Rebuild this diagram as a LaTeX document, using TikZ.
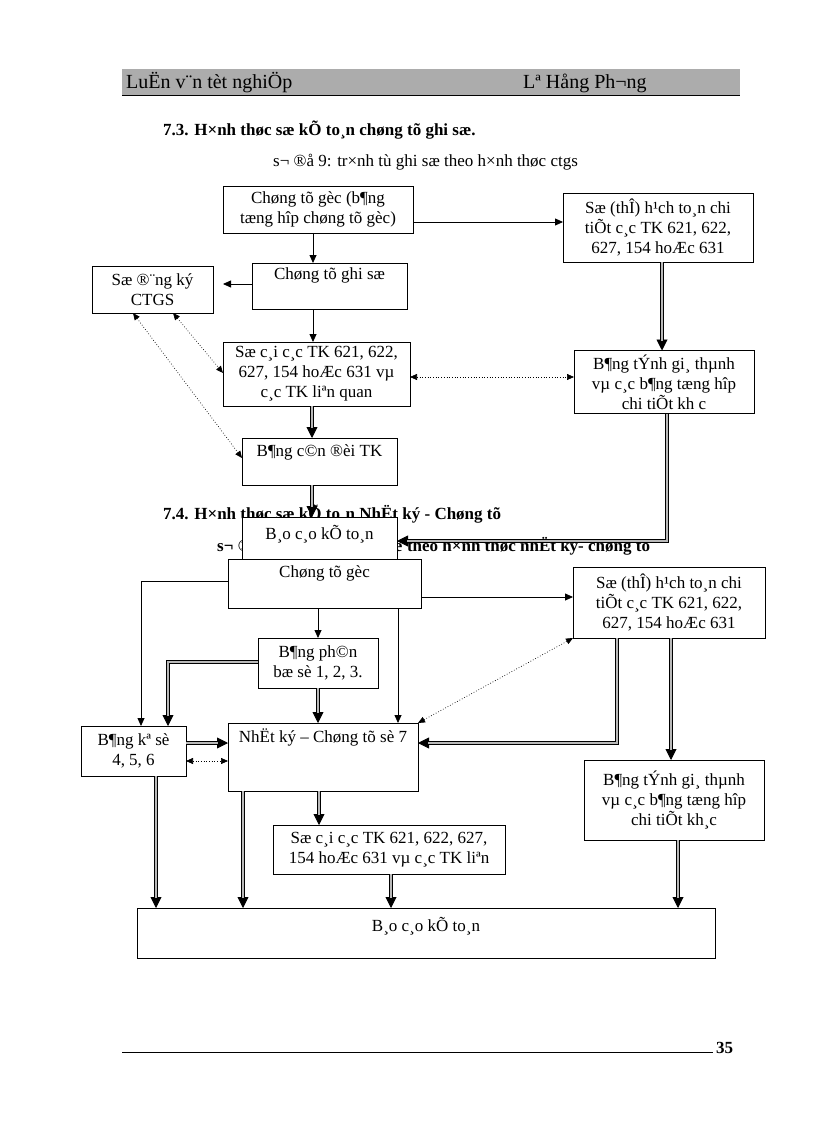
\documentclass[tikz,border=0pt]{standalone}
\usepackage{fontspec}
\setmainfont{Liberation Serif}
\usetikzlibrary{arrows.meta, calc}
\definecolor{band}{RGB}{172,172,172}
\newcommand\boxfont{\fontsize{17}{20}\selectfont}
\newcommand\headfont{\fontsize{20}{22}\selectfont}
\tikzset{
    box/.style = {draw, fill=white, line width=0.8pt, inner sep=0pt, outer sep=0pt,
                  align=center, font=\boxfont},
    lbl/.style = {anchor=north, font=\boxfont, inner sep=0pt},
    head/.style = {anchor=base west, inner sep=0pt, font=\fontsize{17}{20}\selectfont\bfseries},
    captxt/.style = {anchor=base west, inner sep=0pt, font=\boxfont},
    arr/.style = {line width=0.8pt, -{Triangle[length=8pt,width=7pt]}},
    dbl/.style = {line width=0.9pt, -{Triangle[length=11pt,width=11pt]},
                  postaction={draw, -, double=gray!55, double distance=1.8pt, shorten >=10pt}},
    dots/.style = {dotted, line width=0.7pt,
                   {Triangle[length=7pt,width=6pt]}-{Triangle[length=7pt,width=6pt]}},
}

\begin{document}
\begin{tikzpicture}[x=1pt,y=-1pt]
\useasboundingbox (0,0) rectangle (816,1123);

% header
\fill[band] (122,69) rectangle (740,95);
\draw[line width=1.5pt] (122,95.5) -- (740,95.5);
\node[anchor=base west, font=\headfont, inner sep=0pt] (luan) at (126,89) {LuËn v¨n tèt nghiÖp};
\node[anchor=base west, font=\headfont, inner sep=0pt] (tacgia) at (523,89) {Lª Hång Ph¬ng};

% 7.3
\node[head] (muc73) at (163,136) {7.3. H×nh thøc sæ kÕ to¸n chøng tõ ghi sæ.};
\node[captxt] (sodo9) at (273,167) {s¬ ®å 9: tr×nh tù ghi sæ theo h×nh thøc ctgs};

\node[box, minimum width=190pt, minimum height=47pt] (goc1) at (318,209.5)
    {Chøng tõ gèc (b¶ng\\tæng hîp chøng tõ gèc)};
\node[box, minimum width=190pt, minimum height=69pt] (the1) at (658,227.5)
    {Sæ (thÎ) h¹ch to¸n chi\\tiÕt c¸c TK 621, 622,\\627, 154 hoÆc 631};
\node[box, minimum width=121pt, minimum height=47pt] (dk1) at (152.5,289.5)
    {Sæ ®¨ng ký\\CTGS};
\node[box, minimum width=155pt, minimum height=46pt,
      label={[lbl, name=ctgs1-t, yshift=-5pt]north:Chøng tõ ghi sæ}] (ctgs1) at (329.5,286) {};
\node[box, minimum width=187pt, minimum height=64pt] (cai1) at (316.5,374)
    {Sæ c¸i c¸c TK 621, 622,\\627, 154 hoÆc 631 vµ\\c¸c TK liªn quan};
\node[box, minimum width=180pt, minimum height=63pt] (tinh1) at (664,382)
    {B¶ng tÝnh gi¸ thµnh\\vµ c¸c b¶ng tæng hîp\\chi tiÕt kh c};
\node[box, minimum width=155pt, minimum height=47pt,
      label={[lbl, name=cdoi1-t, yshift=-6pt]north:B¶ng c©n ®èi TK}] (cdoi1) at (319.5,461.5) {};

\draw[arr] (313,0 |- goc1.south) -- (313,0 |- ctgs1.north);
\draw[arr] (goc1.east |- 0,222) -- (the1.west |- 0,222);
\draw[arr, shorten >=10pt] (ctgs1.west |- 0,284) -- (dk1.east |- 0,284);
\draw[arr] (313,0 |- ctgs1.south) -- (313,0 |- cai1.north);
\draw[dots] (dk1.south -| 173,0) -- (cai1.west |- 0,373);
\draw[dots] (dk1.south -| 133,0) -- (cdoi1.west |- 0,458);
\draw[dots] (cai1.east |- 0,377) -- (tinh1.west |- 0,377);
\draw[dbl] (662,0 |- the1.south) -- (662,0 |- tinh1.north);
\draw[dbl] (312,0 |- cai1.south) -- (312,0 |- cdoi1.north);

% 7.4
\node[head] (muc74) at (163,519) {7.4. H×nh thøc sæ kÕ to¸n NhËt ký - Chøng tõ};
\node[head] (sodo10) at (217,551) {s¬ ®å 10: tr×nh tù ghi sæ theo h×nh thøc nhËt ký- chøng tõ};

\node[box, minimum width=155pt, minimum height=42pt,
      label={[lbl, name=bc1-t, yshift=-8pt]north:B¸o c¸o kÕ to¸n}] (bc1) at (319.5,538) {};
\draw[dbl] (312,0 |- cdoi1.south) -- (312,0 |- bc1.north);
\draw[dbl] (667,0 |- tinh1.south) |- (bc1.east |- 0,541);

\node[box, minimum width=193pt, minimum height=49pt,
      label={[lbl, name=goc2-t, yshift=-6pt]north:Chøng tõ gèc}] (goc2) at (324.5,583.5) {};
\node[box, minimum width=192pt, minimum height=71pt] (the2) at (669,602.5)
    {Sæ (thÎ) h¹ch to¸n chi\\tiÕt c¸c TK 621, 622,\\627, 154 hoÆc 631};
\node[box, minimum width=120pt, minimum height=50pt] (pb2) at (318,663)
    {B¶ng ph©n\\bæ sè 1, 2, 3.};
\node[box, minimum width=105pt, minimum height=50pt] (ke2) at (133.5,751)
    {B¶ng kª sè\\4, 5, 6};
\node[box, minimum width=190pt, minimum height=68pt,
      label={[lbl, name=nk2-t, yshift=-6pt]north:NhËt ký – Chøng tõ sè 7}] (nk2) at (323,757) {};
\node[box, minimum width=180pt, minimum height=80pt] (tinh2) at (674,800)
    {B¶ng tÝnh gi¸ thµnh\\vµ c¸c b¶ng tæng hîp\\chi tiÕt kh¸c};
\node[box, minimum width=232pt, minimum height=49pt] (cai2) at (389,849.5)
    {Sæ c¸i c¸c TK 621, 622, 627,\\154 hoÆc 631 vµ c¸c TK liªn};
\node[box, minimum width=578pt, minimum height=50pt,
      label={[lbl, name=bc2-t, yshift=-9pt]north:B¸o c¸o kÕ to¸n}] (bc2) at (426,933) {};

\draw[arr] (goc2.west |- 0,581) -| (141,0 |- ke2.north);
\draw[arr] (goc2.east |- 0,597) -- (the2.west |- 0,597);
\draw[arr] (318,0 |- goc2.south) -- (318,0 |- pb2.north);
\draw[arr] (398,0 |- goc2.south) -- (398,0 |- nk2.north);
\draw[dbl] (pb2.west |- 0,662) -| (168,0 |- ke2.north);
\draw[dbl] (318,0 |- pb2.south) -- (318,0 |- nk2.north);
\draw[dbl] (ke2.east |- 0,743) -- (nk2.west |- 0,743);
\draw[dots] (ke2.east |- 0,761) -- (nk2.west |- 0,761);
\draw[dbl] (617,0 |- the2.south) |- (nk2.east |- 0,743);
\draw[dots] (nk2.north east) -- (the2.south west);
\draw[dbl] (671,0 |- the2.south) -- (671,0 |- tinh2.north);
\draw[dbl] (156,0 |- ke2.south) -- (156,0 |- bc2.north);
\draw[dbl] (243,0 |- nk2.south) -- (243,0 |- bc2.north);
\draw[dbl] (319,0 |- nk2.south) -- (319,0 |- cai2.north);
\draw[dbl] (391,0 |- cai2.south) -- (391,0 |- bc2.north);
\draw[dbl] (678,0 |- tinh2.south) -- (678,0 |- bc2.north);

% footer
\draw[line width=0.8pt] (122,1052) -- (713,1052);
\node[head] (trang) at (716,1053) {35};
\end{tikzpicture}
\end{document}
